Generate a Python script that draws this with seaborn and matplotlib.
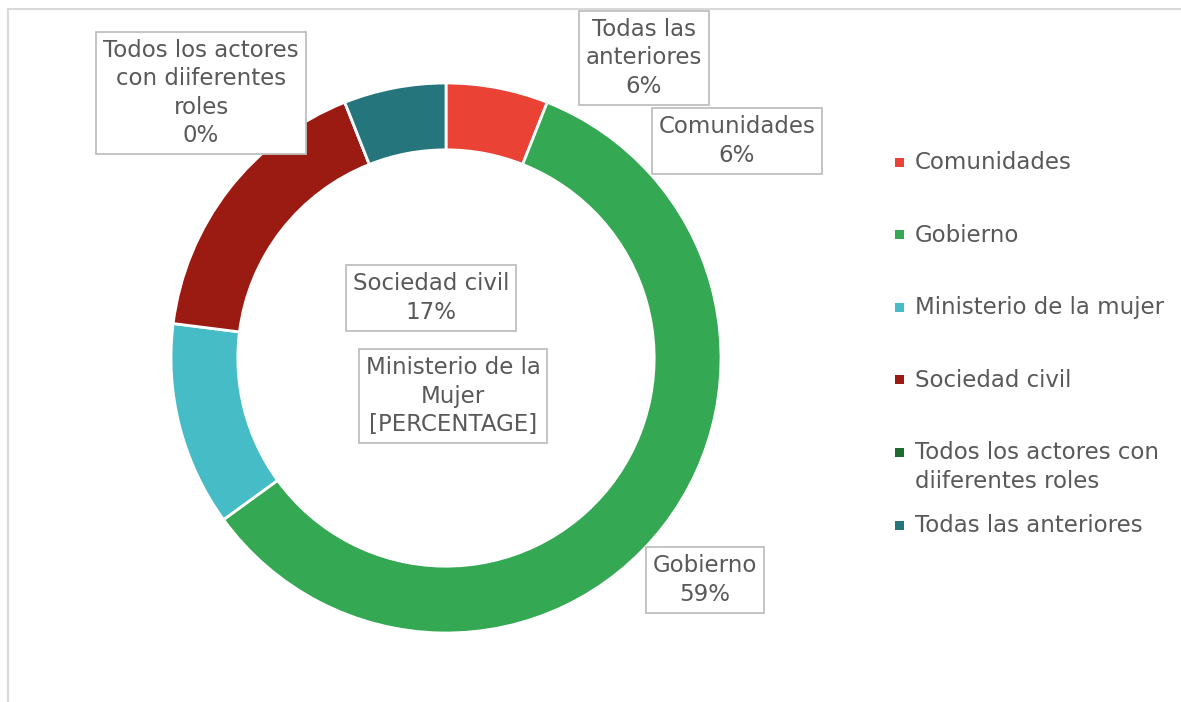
import matplotlib
matplotlib.use('Agg')
import matplotlib.pyplot as plt
import seaborn as sns
from matplotlib.patches import Rectangle

sns.set_style("white")
plt.rcParams['font.family'] = ['DejaVu Sans']

# datos
categorias = ["Comunidades", "Gobierno", "Ministerio de la mujer", "Sociedad civil",
              "Todos los actores con\ndiiferentes roles", "Todas las anteriores"]
valores = [6, 59, 12, 17, 0, 6]
etiquetas = ["Comunidades\n{}%", "Gobierno\n{}%", "Ministerio de la\nMujer\n[PERCENTAGE]",
             "Sociedad civil\n{}%", "Todos los actores\ncon diiferentes\nroles\n{}%",
             "Todas las\nanteriores\n{}%"]
colores = sns.color_palette(["#EA4335", "#34A853", "#46BDC6", "#9B1B12", "#1E6B30", "#24757C"])

# posiciones de las etiquetas (pixeles, centro de la caja)
pos_etiquetas = [(737, 141), (705, 580), (453, 396), (431, 298), (201, 93), (644, 58)]

W, H = 1181, 702
gris = '#595959'
fs = 16.5

fig = plt.figure(figsize=(W / 100, H / 100), dpi=100)

# marco del area del grafico
fig.patches.append(Rectangle((8 / W, -0.1), 2, 1.1 - 9 / H, transform=fig.transFigure,
                             fill=False, edgecolor='#D9D9D9', linewidth=1.5))

# dona
cx, cy, r = 446, 358, 275
ax = fig.add_axes([(cx - 300) / W, (H - cy - 300) / H, 600 / W, 600 / H])
ax.pie(valores, colors=colores, startangle=90, counterclock=False, radius=1,
       wedgeprops=dict(width=0.243, edgecolor='white', linewidth=2))
ax.set_xlim(-300 / r, 300 / r)
ax.set_ylim(-300 / r, 300 / r)
ax.set_aspect('equal')
ax.axis('off')

for txt, v, (px, py) in zip(etiquetas, valores, pos_etiquetas):
    fig.text(px / W, 1 - py / H, txt.format(v), ha='center', va='center', fontsize=fs,
             color=gris, linespacing=1.3, multialignment='center',
             bbox=dict(boxstyle='square,pad=0.3', facecolor='white', edgecolor='#BFBFBF', linewidth=1.3))

# leyenda
y0, paso = 162, 72.6
for i, (cat, col) in enumerate(zip(categorias, colores)):
    y = y0 + paso * i
    fig.patches.append(Rectangle(((899.5 - 4.5) / W, 1 - (y + 4.5) / H), 9 / W, 9 / H,
                                 transform=fig.transFigure, facecolor=col, edgecolor='none'))
    fig.text(915 / W, 1 - (y - 11) / H, cat, ha='left', va='top', fontsize=fs,
             color=gris, linespacing=1.3)

fig.savefig('out.png', dpi=100, facecolor='white')
